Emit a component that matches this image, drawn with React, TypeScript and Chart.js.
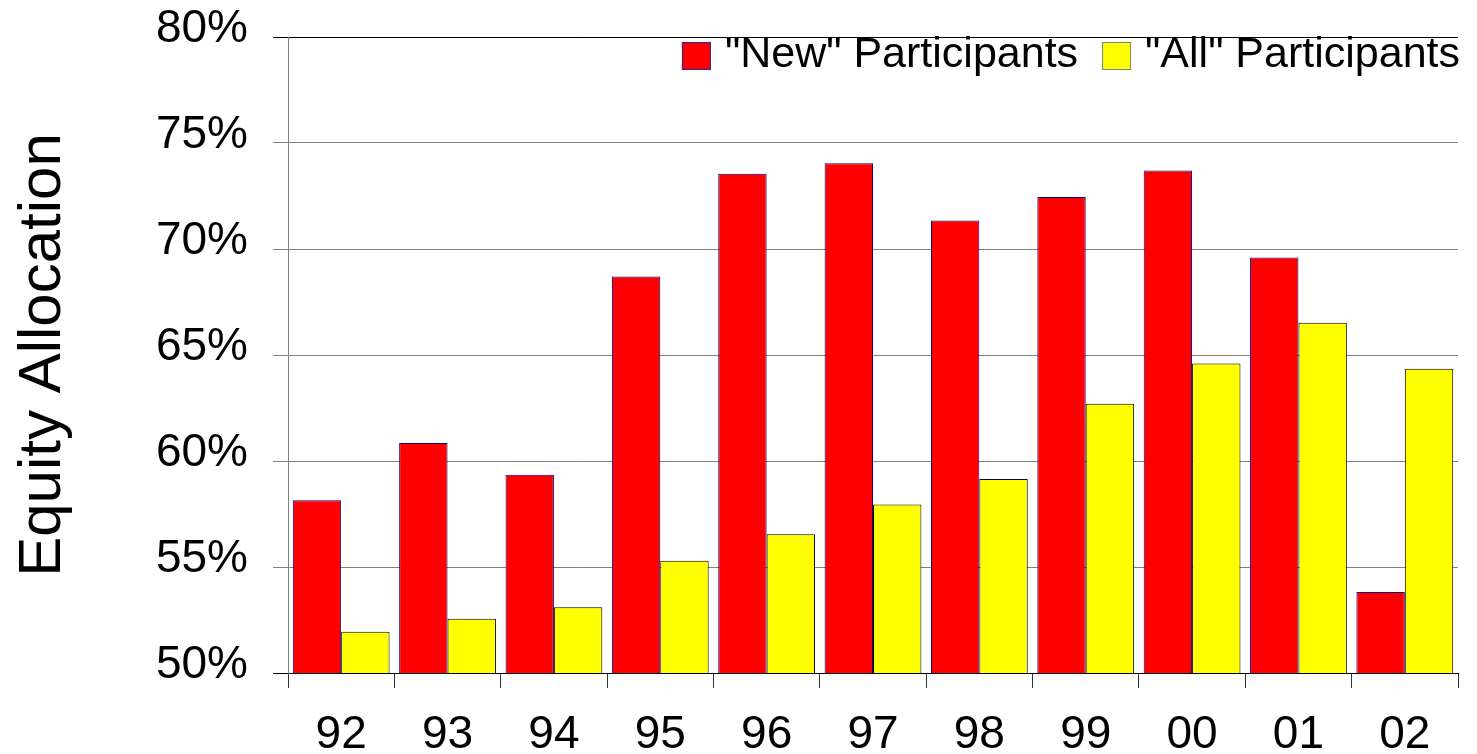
import React, { useEffect, useRef } from "react";
import { Chart, registerables } from "chart.js";

Chart.register(...registerables);

const years = ["92", "93", "94", "95", "96", "97", "98", "99", "00", "01", "02"];
const newParticipants = [58.15, 60.85, 59.35, 68.7, 73.55, 74.05, 71.35, 72.45, 73.7, 69.6, 53.82];
const allParticipants = [51.95, 52.56, 53.1, 55.3, 56.55, 57.95, 59.15, 62.7, 64.6, 66.52, 64.35];
const seriesLabels = ['"New" Participants', '"All" Participants'];

const FONT = '"Liberation Sans", Arial, Helvetica, sans-serif';
const LEGEND_STROKES = ["#2a2aa0", "#808080"];

const legendPlugin = {
  id: "insideLegend",
  afterDraw(chart: any) {
    const { ctx, chartArea } = chart;
    ctx.save();
    ctx.font = `43px ${FONT}`;
    ctx.textBaseline = "alphabetic";
    ctx.textAlign = "left";
    const boxW = 29;
    const boxH = 28;
    const gapBoxText = 14;
    const gapItems = 24;
    const ds = chart.data.datasets;
    const widths = ds.map((d: any) => ctx.measureText(d.label).width);
    let total = 0;
    widths.forEach((w: number, i: number) => {
      total += boxW + gapBoxText + w + (i < widths.length - 1 ? gapItems : 0);
    });
    let x = chartArea.right + 2 - total;
    const boxTop = chartArea.top + 5;
    const baseline = chartArea.top + 30;
    ds.forEach((d: any, i: number) => {
      ctx.fillStyle = d.backgroundColor;
      ctx.fillRect(x, boxTop, boxW, boxH);
      ctx.strokeStyle = LEGEND_STROKES[i];
      ctx.lineWidth = 1;
      ctx.strokeRect(x + 0.5, boxTop + 0.5, boxW - 1, boxH - 1);
      x += boxW + gapBoxText;
      ctx.fillStyle = "#000";
      ctx.fillText(d.label, x, baseline);
      x += widths[i] + gapItems;
    });
    ctx.restore();
  },
};

export default function App() {
  const canvasRef = useRef<HTMLCanvasElement | null>(null);

  useEffect(() => {
    if (!canvasRef.current) return;
    const chart = new Chart(canvasRef.current, {
      type: "bar",
      data: {
        labels: years,
        datasets: [
          {
            label: seriesLabels[0],
            data: newParticipants,
            backgroundColor: "#ff0000",
            borderColor: "#000080",
            borderWidth: 1,
            categoryPercentage: 0.91,
            barPercentage: 1.0,
          },
          {
            label: seriesLabels[1],
            data: allParticipants,
            backgroundColor: "#ffff00",
            borderColor: "#000000",
            borderWidth: 1,
            categoryPercentage: 0.91,
            barPercentage: 1.0,
          },
        ],
      },
      options: {
        animation: false,
        responsive: true,
        maintainAspectRatio: false,
        layout: { padding: { top: 37, right: 19, bottom: 0, left: 0 } },
        plugins: {
          legend: { display: false },
          tooltip: { enabled: false },
          title: { display: false },
        },
        scales: {
          x: {
            type: "category",
            offset: true,
            grid: {
              display: true,
              offset: true,
              drawOnChartArea: false,
              drawTicks: true,
              tickLength: 15,
              color: "#333333",
              lineWidth: 1,
            },
            border: { display: true, color: "#000000", width: 1 },
            ticks: {
              color: "#000",
              font: { family: FONT, size: 46 },
              padding: 20,
              maxRotation: 0,
              autoSkip: false,
            },
            afterFit: (scale: any) => {
              scale.height = 81;
              scale.paddingLeft = 0;
              scale.paddingRight = 0;
            },
          },
          y: {
            min: 50,
            max: 80,
            grid: {
              color: (c: any) =>
                c.tick && (c.tick.value === 80 || c.tick.value === 50) ? "#000000" : "#808080",
              lineWidth: 1,
              drawTicks: true,
              tickLength: 15,
            },
            border: { display: true, color: "#808080", width: 1 },
            ticks: {
              stepSize: 5,
              color: "#000",
              font: { family: FONT, size: 46 },
              padding: 25,
              labelOffset: -8,
              callback: (v: any) => `${v}%`,
            },
            title: {
              display: true,
              text: "Equity Allocation",
              color: "#000",
              font: { family: FONT, size: 60 },
              padding: { top: 7, bottom: 0 },
            },
            afterFit: (scale: any) => {
              scale.width = 288;
              scale.paddingTop = 0;
              scale.paddingBottom = 0;
            },
          },
        },
      },
      plugins: [legendPlugin],
    });
    return () => chart.destroy();
  }, []);

  return (
    <div style={{ position: "absolute", left: 0, top: 0, width: 1477, height: 754, background: "#fff" }}>
      <canvas ref={canvasRef} />
    </div>
  );
}
